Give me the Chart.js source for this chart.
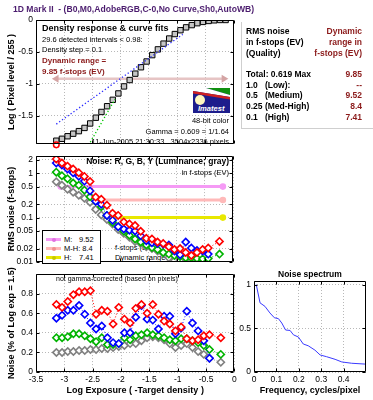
<!DOCTYPE html>
<html><head><meta charset="utf-8">
<script src="https://cdn.jsdelivr.net/npm/chart.js@4.4.1/dist/chart.umd.min.js"></script>
<style>
html,body{margin:0;padding:0;background:#fff;}
body{width:373px;height:400px;position:relative;overflow:hidden;font-family:"Liberation Sans",Arial,Helvetica,sans-serif;color:#000;}
.t{position:absolute;white-space:nowrap;line-height:1;z-index:3;}
.b{font-weight:bold;}
.r{text-align:right;}
canvas{position:absolute;z-index:1;}
.dot{position:absolute;width:4px;height:4px;border-radius:2px;}
</style></head><body>
<div class="t b" style="left:13px;top:5px;font-size:8.6px;color:#4b1c6e;">1D Mark II&nbsp; - (B0,M0,AdobeRGB,C-0,No Curve,Sh0,AutoWB)</div>

<canvas id="cTop" width="240" height="152" style="left:0;top:0"></canvas>
<canvas id="cMid" width="240" height="122" style="left:0;top:148px"></canvas>
<canvas id="cBot" width="240" height="134" style="left:0;top:266px"></canvas>
<canvas id="cSpec" width="138" height="134" style="left:235px;top:266px"></canvas>

<!-- top panel annotations -->
<div class="t b" style="left:42px;top:24px;font-size:9px;">Density response &amp; curve fits</div>
<div class="t" style="left:42px;top:36px;font-size:7.5px;">29.6 detected intervals &lt; 0.98:</div>
<div class="t" style="left:42px;top:46px;font-size:7.5px;">Density step = 0.1</div>
<div class="t b" style="left:42px;top:57px;font-size:8px;color:#8b1a1a;">Dynamic range =</div>
<div class="t b" style="left:42px;top:68px;font-size:8px;color:#8b1a1a;">9.85 f-stops (EV)</div>
<div class="t r" style="right:144px;top:117px;font-size:7.5px;">48-bit color</div>
<div class="t r" style="right:144px;top:128px;font-size:7.5px;">Gamma = 0.609 = 1/1.64</div>
<div class="t r" style="right:144px;top:138px;font-size:7.5px;">11-Jun-2005 21:30:33&nbsp;&nbsp; 3504x2336 pixels</div>
<svg style="position:absolute;left:193px;top:88px;z-index:3" width="37" height="25" viewBox="0 0 37 25">
  <rect width="37" height="25" fill="#1d1d8c"/>
  <polygon points="13,0 37,0 37,7" fill="#109010"/>
  <polygon points="0,0 13,0 37,7 37,9 0,3" fill="#ffffff"/>
  <polygon points="0,3 37,9 37,11.5 0,5.5" fill="#d02020"/>
  <circle cx="7" cy="12" r="5" fill="#fff8c0"/>
  <text x="5" y="22.5" font-family="Liberation Sans, Arial, sans-serif" font-size="7.6" font-style="italic" font-weight="bold" fill="#ffffff">Imatest</text>
</svg>

<!-- right text panel -->
<div style="position:absolute;left:241px;top:22px;width:132px;height:106px;border-left:1px solid #cfcfcf;border-bottom:1px solid #cfcfcf;z-index:2;"></div>
<div class="t b" style="left:246px;top:27px;font-size:8.5px;">RMS noise</div>
<div class="t b r" style="right:11px;top:27px;font-size:8.5px;color:#8b1a1a;">Dynamic</div>
<div class="t b" style="left:246px;top:38px;font-size:8.5px;">in f-stops (EV)</div>
<div class="t b r" style="right:11px;top:38px;font-size:8.5px;color:#8b1a1a;">range in</div>
<div class="t b" style="left:246px;top:49px;font-size:8.5px;">(Quality)</div>
<div class="t b r" style="right:11px;top:49px;font-size:8.5px;color:#8b1a1a;">f-stops (EV)</div>
<div class="t b" style="left:246px;top:70px;font-size:8.5px;">Total: 0.619 Max</div>
<div class="t b r" style="right:11px;top:70px;font-size:8.5px;color:#8b1a1a;">9.85</div>
<div class="t b" style="left:246px;top:80.5px;font-size:8.5px;">1.0&nbsp;&nbsp; (Low):</div>
<div class="t b r" style="right:11px;top:80.5px;font-size:8.5px;color:#8b1a1a;">--</div>
<div class="t b" style="left:246px;top:91px;font-size:8.5px;">0.5&nbsp;&nbsp; (Medium)</div>
<div class="t b r" style="right:11px;top:91px;font-size:8.5px;color:#8b1a1a;">9.52</div>
<div class="t b" style="left:246px;top:102px;font-size:8.5px;">0.25 (Med-High)</div>
<div class="t b r" style="right:11px;top:102px;font-size:8.5px;color:#8b1a1a;">8.4</div>
<div class="t b" style="left:246px;top:112.5px;font-size:8.5px;">0.1&nbsp;&nbsp; (High)</div>
<div class="t b r" style="right:11px;top:112.5px;font-size:8.5px;color:#8b1a1a;">7.41</div>

<!-- middle panel annotations -->
<div class="t b r" style="right:144px;top:157px;font-size:8.5px;">Noise: R, G, B, Y (Luminance; gray)</div>
<div class="t r" style="right:144px;top:169px;font-size:7.5px;">in f-stops (EV)</div>
<div class="t" style="left:115px;top:244px;font-size:7.5px;z-index:0;">f-stops (EV)</div>
<div class="t" style="left:115px;top:254px;font-size:7.5px;z-index:0;">Dynamic range</div>
<div style="position:absolute;left:42px;top:230px;width:57px;height:32px;border:1px solid #000;background:#fff;z-index:3;">
  <div style="position:absolute;left:3px;top:7px;width:15px;height:3px;background:#f59af5;"></div>
  <div class="dot" style="left:8.5px;top:6.5px;background:#e070e0;"></div>
  <div style="position:absolute;left:3px;top:16px;width:15px;height:3px;background:#ffb9b9;"></div>
  <div class="dot" style="left:8.5px;top:15.5px;background:#f09090;"></div>
  <div style="position:absolute;left:3px;top:25px;width:15px;height:3px;background:#e8e800;"></div>
  <div class="dot" style="left:8.5px;top:24.5px;background:#c8c800;"></div>
  <div class="t" style="left:21px;top:5px;font-size:7.5px;">M:</div><div class="t" style="left:36px;top:5px;font-size:7.5px;">9.52</div>
  <div class="t" style="left:21px;top:14px;font-size:7.5px;">M-H: 8.4</div>
  <div class="t" style="left:21px;top:23px;font-size:7.5px;">H:</div><div class="t" style="left:36px;top:23px;font-size:7.5px;">7.41</div>
</div>

<!-- bottom panel annotations -->
<div class="t" style="left:56px;top:274.5px;font-size:7px;">not gamma-corrected (based on pixels)</div>
<div class="t b" style="left:278px;top:270px;font-size:8.5px;">Noise spectrum</div>

<script>
// ---------- data ----------
const exposureTicks = [-3.5, -3, -2.5, -2, -1.5, -1, -0.5, 0];

const densityExposure = [-3.14, -3.04, -2.94, -2.84, -2.74, -2.64, -2.54, -2.44, -2.34, -2.24, -2.14,
  -2.04, -1.94, -1.84, -1.74, -1.64, -1.54, -1.44, -1.34, -1.24, -1.14, -1.04, -0.94, -0.84, -0.74,
  -0.64, -0.54, -0.44, -0.34, -0.24, -0.14];
const densityLogPixel = [-1.89, -1.86, -1.82, -1.78, -1.74, -1.69, -1.62, -1.53, -1.44, -1.35, -1.25,
  -1.15, -1.04, -0.94, -0.84, -0.74, -0.65, -0.55, -0.46, -0.37, -0.29, -0.22, -0.16, -0.115, -0.08,
  -0.05, -0.03, -0.015, -0.005, 0, 0];
const densityTicks = [-1.5, -1, -0.5, 0];

const gammaFitX = [-3.14, -0.90];
const gammaFitY = [-1.63, -0.225];
const toeFitX = [-2.60, -2.10];
const toeFitY = [-2.01, -1.24];
const dynRangeX = [-3.14, -0.17];
const dynRangeY = [-0.92, -0.92];
const darkMarkX = [-3.14];
const darkMarkY = [-1.955];

const noiseExposure = [-3.14, -3.04, -2.94, -2.84, -2.74, -2.64, -2.54, -2.44, -2.34, -2.24, -2.14,
  -2.04, -1.94, -1.84, -1.74, -1.64, -1.54, -1.44, -1.34, -1.24, -1.14, -1.04, -0.94, -0.84, -0.74,
  -0.64, -0.54, -0.44, -0.24];

const noiseStopsR = [2.1, 1.7, 1.45, 1.25, 1.03, 0.85, 0.65, 0.29, 0.26, 0.19, 0.125, 0.112, 0.08, 0.072,
  0.066, 0.049, 0.034, 0.033, 0.028, 0.026, 0.022, 0.019, 0.020, 0.0163, 0.014, 0.0163, 0.019, 0.0206, 0.029];
const noiseStopsB = [1.7, 1.53, 1.25, 1.03, 0.855, 0.665, 0.40, 0.233, 0.20, 0.112, 0.087, 0.062, 0.055, 0.052,
  0.050, 0.039, 0.030, 0.027, 0.026, 0.025, 0.024, 0.0176, 0.0145, 0.028, 0.0206, 0.018, 0.0176, 0.015, null];
const noiseStopsG = [1.06, 0.88, 0.75, 0.60, 0.535, 0.416, 0.294, 0.233, 0.176, 0.112, 0.078, 0.062, 0.049, 0.040,
  0.033, 0.028, 0.024, 0.021, 0.019, 0.0163, 0.015, 0.0139, 0.0133, 0.0124, 0.0124, 0.0119, 0.0117, 0.0119, 0.015];
const noiseStopsY = [0.645, 0.535, 0.436, 0.373, 0.319, 0.272, 0.222, 0.153, 0.115, 0.091, 0.072, 0.054, 0.044, 0.036,
  0.029, 0.026, 0.022, 0.020, 0.0176, 0.0155, 0.0124, 0.0106, 0.0106, 0.0102, 0.011, 0.0113, 0.0095, 0.0085, 0.007];
const noiseStopsTicks = [0.01, 0.02, 0.05, 0.1, 0.2, 0.5, 1, 2];

const qualityLevels = [0.5, 0.25, 0.1];          // M, M-H, H
const qualityStartX = [-3.06, -2.38, -2.20];
const qualityEndX = [-0.18, -0.18, -0.18];

const noisePctR = [0.69, 0.66, 0.72, 0.79, 0.82, 0.82, 0.83, 0.59, 0.63, 0.62, 0.49, 0.66, 0.54, 0.50,
  0.65, 0.69, 0.60, 0.69, 0.59, 0.52, 0.49, 0.42, 0.46, 0.34, 0.32, 0.33, 0.37, 0.38, 0.35];
const noisePctB = [0.55, 0.58, 0.63, 0.63, 0.68, 0.59, 0.50, 0.44, 0.47, 0.35, 0.30, 0.29, 0.40, 0.40,
  0.56, 0.68, 0.54, 0.53, 0.44, 0.57, 0.57, 0.39, 0.45, 0.62, 0.50, 0.42, 0.32, 0.14, null];
const noisePctG = [0.35, 0.35, 0.36, 0.39, 0.39, 0.37, 0.34, 0.31, 0.35, 0.28, 0.28, 0.29, 0.35, 0.33,
  0.37, 0.38, 0.40, 0.38, 0.37, 0.35, 0.33, 0.32, 0.34, 0.34, 0.32, 0.30, 0.27, 0.23, 0.18];
const noisePctY = [0.20, 0.20, 0.21, 0.21, 0.22, 0.22, 0.23, 0.23, 0.24, 0.24, 0.25, 0.26, 0.27, 0.29,
  0.29, 0.32, 0.35, 0.36, 0.35, 0.33, 0.29, 0.25, 0.27, 0.29, 0.25, 0.21, 0.18, 0.14, 0.10];
const noisePctTicks = [0, 0.2, 0.4, 0.6, 0.8];

const spectrumFreq = [0.01, 0.027, 0.049, 0.071, 0.091, 0.109, 0.124, 0.141, 0.161, 0.176, 0.198,
  0.22, 0.242, 0.272, 0.295, 0.324, 0.362, 0.392, 0.436, 0.5];
const spectrumPower = [1.0, 0.79, 0.75, 0.675, 0.62, 0.61, 0.56, 0.48, 0.475, 0.425, 0.40,
  0.32, 0.30, 0.25, 0.195, 0.175, 0.145, 0.115, 0.10, 0.09];
const spectrumFreqTicks = [0, 0.1, 0.2, 0.3, 0.4];
const spectrumPowerTicks = [0, 0.5, 1];

// ---------- helpers ----------
const FONT = "'Liberation Sans', Arial, Helvetica, sans-serif";
Chart.defaults.font.family = FONT;
Chart.defaults.font.size = 8.5;
Chart.defaults.color = '#000';
Chart.defaults.animation = false;

const pts = (xs, ys) => xs.map((x, i) => ({x, y: ys[i]}));
const fmt = v => String(Math.round(v * 1000) / 1000);

const framePlugin = {
  id: 'frame',
  afterDatasetsDraw(chart) {
    const {ctx, chartArea: a, scales} = chart;
    ctx.save();
    ctx.strokeStyle = '#000';
    ctx.lineWidth = 1;
    ctx.beginPath();
    const L = Math.round(a.left) + 0.5, R = Math.round(a.right) - 0.5;
    const T = Math.round(a.top) + 0.5, B = Math.round(a.bottom) - 0.5;
    ctx.rect(L, T, R - L, B - T);
    const tl = 3;
    scales.x.ticks.forEach(t => {
      const p = Math.round(scales.x.getPixelForValue(t.value)) + 0.5;
      ctx.moveTo(p, B); ctx.lineTo(p, B - tl);
      ctx.moveTo(p, T); ctx.lineTo(p, T + tl);
    });
    scales.y.ticks.forEach(t => {
      const p = Math.round(scales.y.getPixelForValue(t.value)) + 0.5;
      ctx.moveTo(L, p); ctx.lineTo(L + tl, p);
      ctx.moveTo(R, p); ctx.lineTo(R - tl, p);
    });
    ctx.stroke();
    ctx.restore();
  }
};

function gridOpts() { return {color: '#b8b8b8', drawTicks: false, lineWidth: 1}; }
function borderOpts() { return {display: false, dash: [1, 2]}; }

function xExposure(showLabels, h, title) {
  return {
    type: 'linear', position: 'bottom', min: -3.5, max: 0,
    afterBuildTicks: s => { s.ticks = exposureTicks.map(v => ({value: v})); },
    afterFit: s => { s.height = h; },
    ticks: {display: showLabels, padding: 3, maxRotation: 0, autoSkip: false, callback: v => fmt(v)},
    grid: gridOpts(), border: borderOpts(),
    title: title ? {display: true, text: title, font: {size: 9, weight: 'bold'}, padding: {top: 0, bottom: 4}} : {display: false}
  };
}
function yTitle(text) {
  return {display: true, text, font: {size: 9, weight: 'bold'}, padding: {top: 6.5, bottom: 0}};
}
function noiseSet(vals, color, order) {
  return {
    data: pts(noiseExposure, vals), showLine: true, borderColor: color, borderWidth: 1, borderDash: [1, 2],
    pointStyle: 'rectRot', pointRadius: 3.6, pointBorderWidth: 1.6, pointBackgroundColor: '#fff',
    pointBorderColor: color, order, spanGaps: false
  };
}
const baseOpts = (padding) => ({
  responsive: false, animation: false, devicePixelRatio: 1,
  layout: {padding},
  plugins: {legend: {display: false}, tooltip: {enabled: false}, title: {display: false}},
});

const RED = '#ff0000', BLUE = '#0000ff', GREEN = '#00b400', GRAY = '#808080';

// ---------- top: density response ----------
new Chart(document.getElementById('cTop'), {
  type: 'scatter',
  data: {datasets: [
    {data: pts(gammaFitX, gammaFitY), showLine: true, borderColor: '#2a2aff', borderWidth: 1.3, borderDash: [1.3, 2.2], pointRadius: 0, order: 1},
    {data: pts(toeFitX, toeFitY), showLine: true, borderColor: '#00c800', borderWidth: 1.3, borderDash: [1.3, 2.2], pointRadius: 0, order: 1},
    {data: pts(densityExposure, densityLogPixel), showLine: false, pointStyle: 'rect', pointRadius: 3.8,
      pointBackgroundColor: '#c6c6c6', pointBorderColor: '#000', pointBorderWidth: 1, order: 2},
    {data: pts(dynRangeX, dynRangeY), showLine: true, borderColor: '#e6c4c4', borderWidth: 2.5, pointStyle: 'triangle',
      pointRotation: [-90, 90], pointRadius: 2, pointBackgroundColor: '#d4a4a4', pointBorderColor: '#d4a4a4', order: 3},
    {data: pts(darkMarkX, darkMarkY), showLine: false, pointStyle: 'circle', pointRadius: 2.8, pointBorderWidth: 1.5,
      pointBorderColor: RED, pointBackgroundColor: '#fff', clip: false, order: 0}
  ]},
  options: Object.assign(baseOpts({top: 20, right: 5, left: 0, bottom: 0}), {
    scales: {
      x: xExposure(false, 2, null),
      y: {
        type: 'linear', min: -1.94, max: 0,
        afterBuildTicks: s => { s.ticks = densityTicks.map(v => ({value: v})); },
        afterFit: s => { s.width = 36; },
        ticks: {padding: 3, callback: v => fmt(v)},
        grid: gridOpts(), border: borderOpts(),
        title: yTitle('Log ( Pixel level / 255 )')
      }
    }
  }),
  plugins: [framePlugin]
});

// ---------- middle: noise in f-stops ----------
const qualityColors = ['#f59af5', '#ffb9b9', '#e8e800'];
const qualitySets = qualityLevels.map((lv, i) => ({
  data: [{x: qualityStartX[i], y: lv}, {x: qualityEndX[i], y: lv}], showLine: true,
  borderColor: qualityColors[i], borderWidth: 3, pointRadius: 1.8, pointBackgroundColor: qualityColors[i],
  pointBorderColor: qualityColors[i], order: 10
}));
new Chart(document.getElementById('cMid'), {
  type: 'scatter',
  data: {datasets: [
    ...qualitySets,
    noiseSet(noiseStopsY, GRAY, 5),
    noiseSet(noiseStopsG, GREEN, 4),
    noiseSet(noiseStopsB, BLUE, 3),
    noiseSet(noiseStopsR, RED, 2)
  ]},
  options: Object.assign(baseOpts({top: 2, right: 5, left: 0, bottom: 0}), {
    scales: {
      x: xExposure(false, 3, null),
      y: {
        type: 'logarithmic', min: 0.01, max: 2.44,
        afterBuildTicks: s => { s.ticks = noiseStopsTicks.map(v => ({value: v})); },
        afterFit: s => { s.width = 36; },
        ticks: {padding: 3, autoSkip: false, callback: v => fmt(v)},
        grid: gridOpts(), border: borderOpts(),
        title: yTitle('RMS noise (f-stops)')
      }
    }
  }),
  plugins: [framePlugin]
});

// ---------- bottom: noise % ----------
new Chart(document.getElementById('cBot'), {
  type: 'scatter',
  data: {datasets: [
    noiseSet(noisePctY, GRAY, 5),
    noiseSet(noisePctG, GREEN, 4),
    noiseSet(noisePctB, BLUE, 3),
    noiseSet(noisePctR, RED, 2)
  ]},
  options: Object.assign(baseOpts({top: 6, right: 5, left: 0, bottom: 0}), {
    scales: {
      x: xExposure(true, 28, 'Log Exposure ( -Target density )'),
      y: {
        type: 'linear', min: 0, max: 1,
        afterBuildTicks: s => { s.ticks = noisePctTicks.map(v => ({value: v})); },
        afterFit: s => { s.width = 36; },
        ticks: {padding: 3, callback: v => fmt(v)},
        grid: gridOpts(), border: borderOpts(),
        title: yTitle('Noise (% of Log exp = 1.5)')
      }
    }
  }),
  plugins: [framePlugin]
});

// ---------- spectrum ----------
new Chart(document.getElementById('cSpec'), {
  type: 'scatter',
  data: {datasets: [
    {data: pts(spectrumFreq, spectrumPower), showLine: true, borderColor: '#3a3aff', borderWidth: 1, pointRadius: 0, tension: 0}
  ]},
  options: Object.assign(baseOpts({top: 15, right: 7, left: 0, bottom: 0}), {
    scales: {
      x: {
        type: 'linear', min: 0, max: 0.5,
        afterBuildTicks: s => { s.ticks = spectrumFreqTicks.map(v => ({value: v})); },
        afterFit: s => { s.height = 28; },
        ticks: {padding: 3, maxRotation: 0, autoSkip: false, callback: v => fmt(v)},
        grid: gridOpts(), border: borderOpts(),
        title: {display: true, text: 'Frequency, cycles/pixel', font: {size: 9, weight: 'bold'}, padding: {top: 0, bottom: 4}}
      },
      y: {
        type: 'linear', min: 0, max: 1.04,
        afterBuildTicks: s => { s.ticks = spectrumPowerTicks.map(v => ({value: v})); },
        afterFit: s => { s.width = 19; },
        ticks: {padding: 3, callback: v => fmt(v)},
        grid: gridOpts(), border: borderOpts()
      }
    }
  }),
  plugins: [framePlugin]
});
</script>
</body></html>
